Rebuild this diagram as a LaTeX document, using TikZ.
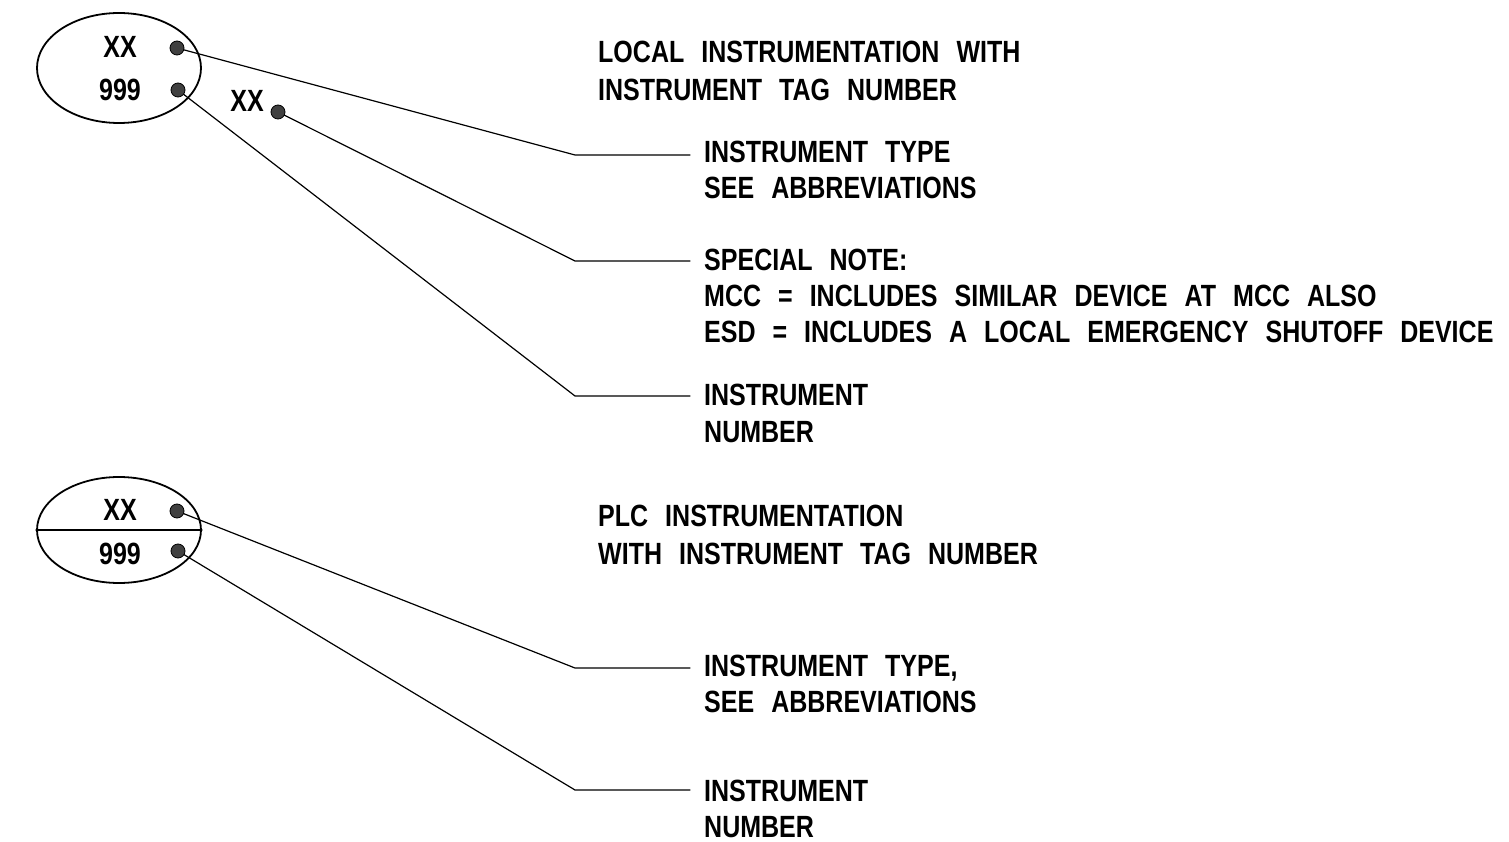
\documentclass[tikz,border=0pt]{standalone}
\usepackage{fontspec}
\setmainfont{Liberation Sans}[FakeStretch=0.815]
\usetikzlibrary{shapes.geometric}
\newcommand\cadfont{\fontsize{30.7}{37}\selectfont\bfseries}
\newcommand\cadgap{\spaceskip=17pt plus 0pt minus 0pt\relax}

\begin{document}
\begin{tikzpicture}[x=1pt,y=-1pt,line cap=round,line join=round,
  txt/.style={anchor=base west,inner sep=0pt,font=\cadfont,execute at begin node=\cadgap},
  tagtxt/.style={anchor=base,inner sep=0pt,font=\cadfont},
  bubble/.style={draw,ellipse,line width=1.8pt,inner sep=0pt,minimum width=164,minimum height=#1},
  pin/.style={draw=black,fill=black!75,line width=0.8pt},
  lead/.style={line width=1.2pt}]
  \useasboundingbox (0,0) rectangle (1509,842);
  % local instrument bubble
  \node[bubble=110] (bubA) at (119,68) {};
  \node[tagtxt] (xxA) at (120,58) {XX};
  \node[tagtxt] (numA) at (120,101) {999};
  \node[tagtxt] (xxS) at (247,112) {XX};
  \coordinate (pA1) at (177,48);
  \coordinate (pA2) at (178,90);
  \coordinate (pA3) at (278,112);
  \coordinate (kA1) at (575,155);
  \coordinate (kA2) at (575,396);
  \coordinate (kA3) at (575,261);
  \coordinate (eA1) at (690,155);
  \coordinate (eA2) at (690,396);
  \coordinate (eA3) at (690,261);
  \draw[lead] (pA1) -- (kA1) -- (eA1);
  \draw[lead] (pA2) -- (kA2) -- (eA2);
  \draw[lead] (pA3) -- (kA3) -- (eA3);
  \foreach \p in {pA1,pA2,pA3} \draw[pin] (\p) circle (7);
  \node[txt] (locA) at (598,63) {LOCAL INSTRUMENTATION WITH};
  \node[txt] (locB) at (598,101) {INSTRUMENT TAG NUMBER};
  \node[txt] (typA) at (704,163) {INSTRUMENT TYPE};
  \node[txt] (abbA) at (704,199) {SEE ABBREVIATIONS};
  \node[txt] (spcA) at (704,270) {SPECIAL NOTE:};
  \node[txt] (spcB) at (704,306) {MCC = INCLUDES SIMILAR DEVICE AT MCC ALSO};
  \node[txt] (spcC) at (704,342) {ESD = INCLUDES A LOCAL EMERGENCY SHUTOFF DEVICE};
  \node[txt] (insA) at (704,405) {INSTRUMENT};
  \node[txt] (insB) at (704,442) {NUMBER};
  % plc instrument bubble
  \node[bubble=106] (bubB) at (119,530) {};
  \draw[line width=1.5pt] (bubB.west) -- (bubB.east);
  \node[tagtxt] (xxB) at (120,520) {XX};
  \node[tagtxt] (numB) at (120,564) {999};
  \coordinate (pB1) at (177,511);
  \coordinate (pB2) at (178,551);
  \coordinate (kB1) at (575,668);
  \coordinate (kB2) at (575,790);
  \coordinate (eB1) at (690,668);
  \coordinate (eB2) at (690,790);
  \draw[lead] (pB1) -- (kB1) -- (eB1);
  \draw[lead] (pB2) -- (kB2) -- (eB2);
  \foreach \p in {pB1,pB2} \draw[pin] (\p) circle (7);
  \node[txt] (plcA) at (598,526) {PLC INSTRUMENTATION};
  \node[txt] (plcB) at (598,564) {WITH INSTRUMENT TAG NUMBER};
  \node[txt] (typB) at (704,676) {INSTRUMENT TYPE,};
  \node[txt] (abbB) at (704,712) {SEE ABBREVIATIONS};
  \node[txt] (insC) at (704,801) {INSTRUMENT};
  \node[txt] (insD) at (704,837) {NUMBER};
\end{tikzpicture}
\end{document}
